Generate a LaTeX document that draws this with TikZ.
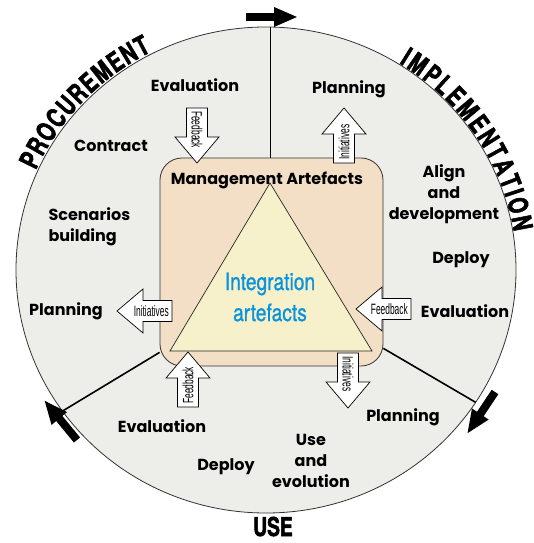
\documentclass[tikz,border=0pt]{standalone}
\usepackage{fontspec}
\setmainfont{Poppins}
\newfontfamily\condfont[FakeStretch=0.8, FakeBold=0.8]{texgyreheros-regular.otf}
\newfontfamily\titlefont[FakeStretch=0.74, FakeBold=2]{texgyreheros-bold.otf}
\newfontfamily\tagfont[FakeStretch=0.56]{Liberation Sans}
\usetikzlibrary{arrows.meta,decorations.text}

\definecolor{ringgray}{RGB}{237,237,233}
\definecolor{mgmtpeach}{RGB}{242,223,198}
\definecolor{intyellow}{RGB}{246,241,202}
\definecolor{intblue}{RGB}{10,146,219}

\tikzset{
  stage/.style={font=\fontsize{16}{21}\selectfont\bfseries, align=center},
  phase/.style={font=\titlefont\fontsize{26}{26}\selectfont},
  turn/.style={line width=8pt, -{Triangle[length=24pt,width=18pt]}},
  divider/.style={line width=1.6pt},
  flowline/.style={draw=black, fill=white, line width=.7pt},
  flowlabel/.style={font=\tagfont\fontsize{15}{15}\selectfont, inner sep=0pt, transform shape},
  % block arrow, text read from tail to tip
  pics/flowfwd/.style={code={
    \draw[flowline] (0,-10.5) -- (29,-10.5) -- (29,-22) -- (55,0) -- (29,22) -- (29,10.5) -- (0,10.5) -- cycle;
    \node[flowlabel, anchor=west] (-label) at (3,0) {\tikzpictext};
  }},
  % block arrow pointing left, text kept upright
  pics/flowback/.style={code={
    \draw[flowline] (0,-10.5) -- (-29,-10.5) -- (-29,-22) -- (-55,0) -- (-29,22) -- (-29,10.5) -- (0,10.5) -- cycle;
    \node[flowlabel, anchor=east] (-label) at (-3,0) {\tikzpictext};
  }},
}

\begin{document}
\begin{tikzpicture}[x=1pt,y=1pt]
\useasboundingbox (-266,-273) rectangle (268,270);
% the ring of phases
\draw[fill=ringgray, draw=black!80, line width=.8pt] (0,0) ellipse[x radius=250, y radius=243];
\coordinate (rimtop) at (89:250 and 243);
\coordinate (rimleft) at (215.5:250 and 243);
\coordinate (rimright) at (-33:250 and 243);

% management artefacts and the integration triangle
\node[draw=black!80, fill=mgmtpeach, line width=.8pt, rounded corners=22pt,
  minimum width=223pt, minimum height=208pt, inner sep=0pt] (mgmt) at (5.5,8) {};
\coordinate (apex) at (4,87);
\coordinate (baseL) at (-96,-81);
\coordinate (baseR) at (106,-81);
\draw[fill=intyellow, draw=black!85, line width=.7pt] (apex) -- (baseL) -- (baseR) -- cycle;

% dividers
\draw[divider] (rimtop) -- (mgmt.north -| rimtop);
\draw[divider] ([yshift=14pt]mgmt.south west) -- (rimleft);
\draw[divider] ([yshift=18pt]mgmt.south east) -- (rimright);

% direction of the cycle
\coordinate (t1) at (-20,253); \coordinate (t2) at (32,253);
\coordinate (l1) at (-189,-170); \coordinate (l2) at (-222,-130);
\coordinate (r1) at (229,-122); \coordinate (r2) at (201,-164);
\draw[turn] (t1) -- (t2);
\draw[turn] (l1) -- (l2);
\draw[turn] (r1) -- (r2);

% phase names
\path[decorate, decoration={text along path, text align=fit to path,
  text={|\titlefont\fontsize{27}{27}\selectfont|PROCUREMENT}}]
  (156:252 and 245) arc[start angle=156, end angle=117, x radius=252, y radius=245];
\path[decorate, decoration={text along path, text align=fit to path,
  text={|\titlefont\fontsize{27}{27}\selectfont|IMPLEMENTATION}}]
  (58:251 and 244) arc[start angle=58, end angle=9, x radius=251, y radius=244];
\node[phase, anchor=base, inner sep=0pt] (use) at (7,-266) {USE};

% activities
\node[stage] (evalproc) at (-71,185) {Evaluation};
\node[stage] (contract) at (-155,124) {Contract};
\node[stage, align=left, anchor=west] (scen) at (-221,43) {Scenarios\\building};
\node[stage] (planproc) at (-200,-41) {Planning};
\node[stage] (planimpl) at (83,181) {Planning};
\node[stage] (align) at (178,76) {Align\\and\\development};
\node[stage] (deployimpl) at (195,10) {Deploy};
\node[stage] (evalimpl) at (199,-41) {Evaluation};
\node[stage] (planuse) at (137,-147) {Planning};
\node[stage] (useevo) at (45,-191) {Use\\and\\evolution};
\node[stage] (evaluse) at (-104,-156) {Evaluation};
\node[stage] (deployuse) at (-40,-197) {Deploy};

\node[stage] (mgmtlabel) at (1,90) {Management Artefacts};
\node[font=\condfont\fontsize{24}{31}\selectfont, text=intblue, align=center] (integ) at (4,-27) {Integration\\artefacts};

% feedback and initiatives
\pic[rotate=-90, pic text=Feedback] (fbproc) at (-69,162) {flowfwd};
\pic[rotate=90, pic text=Initiatives] (inimpl) at (78,107) {flowfwd};
\pic[pic text=Initiatives] (inproc) at (-94,-41) {flowback};
\pic[pic text=Feedback] (fbimpl) at (145,-39) {flowback};
\pic[rotate=90, pic text=Feedback] (fbuse) at (-78,-137) {flowfwd};
\pic[rotate=-90, pic text=Initiatives] (inuse) at (82,-83) {flowfwd};
\end{tikzpicture}
\end{document}
